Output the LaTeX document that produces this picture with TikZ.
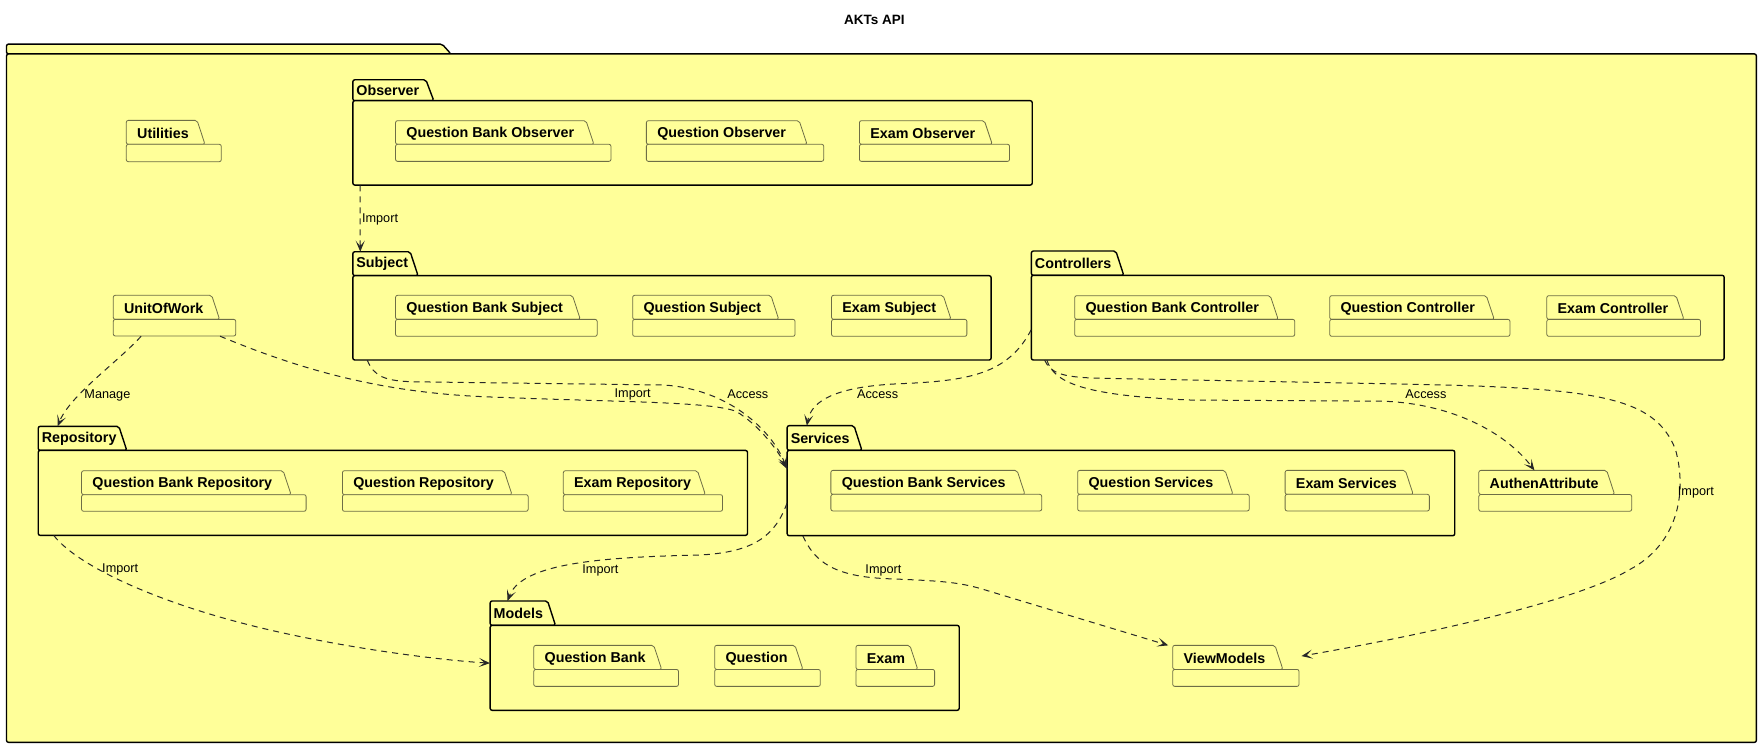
\documentclass[tikz,border=0pt]{standalone}
\usepackage{fontspec}
\setmainfont{Liberation Sans}
\usetikzlibrary{arrows.meta,calc,fit}
\definecolor{pkgfill}{RGB}{255,255,153}
\definecolor{pkgline}{RGB}{110,110,70}
\definecolor{depcol}{RGB}{40,40,40}
\tikzset{
  bigpk/.style={draw=black, line width=1.4pt, fill=pkgfill, rounded corners=2pt},
  smallpk/.style={draw=pkgline, line width=0.8pt, fill=pkgfill, rounded corners=2pt},
  pkname/.style={font=\bfseries\fontsize{14.3}{16}\selectfont, anchor=west, inner sep=0pt},
  dep/.style={draw=depcol, line width=1pt, dash pattern=on 6pt off 5pt,
    -{Stealth[length=11pt,width=9pt,inset=5.5pt]}},
  lbl/.style={font=\fontsize{12.7}{14}\selectfont, inner sep=0pt, text=black},
  ttl/.style={font=\bfseries\fontsize{13.5}{15}\selectfont, inner sep=0pt}
}
% #1 name, #2 x0, #3 tab top, #4 tab right, #5 body top, #6 right, #7 bottom, #8 title
\newcommand\bigpkg[8]{%
  \draw[bigpk] (#2,#5) -- (#2,#3) -- (#4,#3) -- ({#4+7},#5) -- cycle;
  \draw[bigpk] (#2,#5) rectangle (#6,#7);
  \node[fit={(#2,#5) (#6,#7)}, inner sep=0pt] (#1) {};
  \coordinate (#1tab) at (#2,#3);
  \node[pkname] (#1t) at ({#2+3},{(#3+#5)/2}) {#8};
}
\newcommand\smallpkg[8]{%
  \draw[smallpk] (#2,#5) -- (#2,#3) -- (#4,#3) -- ({#4+7},#5) -- cycle;
  \draw[smallpk] (#2,#5) rectangle (#6,#7);
  \node[fit={(#2,#5) (#6,#7)}, inner sep=0pt] (#1) {};
  \coordinate (#1tab) at (#2,#3);
  \node[pkname] (#1t) at ({#2+9.5},{(#3+#5)/2+1.2}) {#8};
}
\begin{document}
\begin{tikzpicture}[x=1.1237pt,y=-1.1237pt]
\fill[white] (0,0) rectangle (1568,666);
\useasboundingbox (0,0) rectangle (1568,666);
\node[ttl] (title) at (778,18) {AKTs API};

% outer package
\draw[bigpk] (5.8,48) -- (5.8,39.2) -- (393.4,39.2) -- (401.3,48) -- cycle;
\draw[bigpk] (5.8,48) rectangle (1563,660.6);
\node[fit={(5.8,48) (1563,660.6)}, inner sep=0pt] (api) {};

% big packages
\bigpkg{obs}{314}{71}{379}{89.6}{918.6}{164.7}{Observer}
\bigpkg{subj}{314}{224}{365}{245.3}{882}{320.4}{Subject}
\bigpkg{ctrl}{917.8}{223.4}{993}{245}{1534.3}{320.4}{Controllers}
\bigpkg{repo}{34}{379.4}{105.8}{400.8}{665.2}{476.4}{Repository}
\bigpkg{svc}{700.5}{378.8}{760}{400.8}{1294.6}{476.7}{Services}
\bigpkg{models}{436.2}{534.8}{487.3}{556.5}{853.6}{632.1}{Models}

% small packages
\smallpkg{util}{112.4}{107.1}{175.4}{128.4}{196.9}{143.9}{Utilities}
\smallpkg{qbo}{352}{107.4}{521.5}{128.4}{543.7}{143.6}{Question Bank Observer}
\smallpkg{qo}{575.2}{107.4}{711.2}{128.4}{733}{143.6}{Question Observer}
\smallpkg{eo}{764.8}{107.4}{876}{128.4}{898.4}{143.6}{Exam Observer}

\smallpkg{uow}{100.8}{262.8}{188.4}{284.2}{209.8}{299}{UnitOfWork}
\smallpkg{qbs}{352}{262.8}{509.4}{284.2}{531.4}{299.3}{Question Bank Subject}
\smallpkg{qs}{563}{262.8}{686}{284.2}{707.5}{299.3}{Question Subject}
\smallpkg{es}{740}{262.8}{839.3}{284.2}{860.4}{299.3}{Exam Subject}

\smallpkg{qbc}{956.4}{263.1}{1130.4}{284.2}{1152.2}{299.3}{Question Bank Controller}
\smallpkg{qc}{1183.3}{263.1}{1322.7}{284.2}{1343.7}{299.3}{Question Controller}
\smallpkg{ec}{1376.5}{263.1}{1491.5}{284.2}{1513.3}{299.3}{Exam Controller}

\smallpkg{qbr}{72.6}{418.9}{252}{440.2}{272.4}{455}{Question Bank Repository}
\smallpkg{qr}{304.7}{418.9}{448.6}{440.2}{470}{455}{Question Repository}
\smallpkg{er}{501.3}{418.9}{620.7}{440.2}{643}{455}{Exam Repository}

\smallpkg{qbsv}{739.4}{418.6}{905.1}{439.9}{927}{454.7}{Question Bank Services}
\smallpkg{qsv}{959}{418.6}{1090.2}{439.9}{1111.7}{454.7}{Question Services}
\smallpkg{esv}{1143.6}{418.6}{1250.6}{439.9}{1272}{454.7}{Exam Services}
\smallpkg{authen}{1316}{418.6}{1429.8}{440}{1452}{455}{AuthenAttribute}

\smallpkg{qb}{475}{574.3}{581.8}{595.7}{603.8}{610.8}{Question Bank}
\smallpkg{q}{636}{574.3}{707.5}{595.7}{730}{610.8}{Question}
\smallpkg{ex}{761.7}{574.3}{809.7}{595.7}{831.7}{610.8}{Exam}
\smallpkg{vm}{1043.6}{574.3}{1134.6}{595.7}{1156}{610.8}{ViewModels}

% connectors
\draw[dep] ($(obs.south west)+(6.6,0)$) -- ($(subjtab)+(6.6,0)$);
\node[lbl, anchor=west] (l1) at (322,195.5) {Import};

\draw[dep] ($(uow.south west)+(25,0)$) .. controls (105,322) and (62,352) .. ($(repotab)+(17.3,0)$);
\node[lbl, anchor=west] (l2) at (75,352) {Manage};

\draw[dep] ($(subj.south west)+(13,0)$) .. controls (333,335) and (342,339.5) .. (372,339.8) -- (590,342.6) .. controls (650,346) and (688,385) .. ($(svc.north west)+(-0.5,15.5)$);
\draw[dep] ($(uow.south west)+(95.2,0)$) .. controls (270,330) and (340,349) .. (430,353) .. controls (550,358) and (630,357) .. (655,366) .. controls (675,378) and (692,400) .. ($(svc.north west)+(0.5,17)$);
\node[lbl] (l3) at (563,351) {Import};
\node[lbl] (l4) at (665.5,351) {Access};

\draw[dep] ($(ctrl.north west)+(0,48.7)$) .. controls (897,333) and (862,339) .. (800,341.5) .. controls (745,344) and (722,356) .. ($(svctab)+(17.5,0)$);
\node[lbl] (l5) at (781,351) {Access};

\draw[dep] ($(ctrl.south west)+(14,0)$) .. controls (938,340) and (962,352) .. (1060,356) -- (1230,357) .. controls (1292,359) and (1340,385) .. ($(authentab)+(49.5,0)$);
\node[lbl] (l6) at (1268.9,350.6) {Access};

\draw[dep] ($(ctrl.south west)+(12,0)$) .. controls (935,332) and (945,335.5) .. (975,336.5) -- (1243.6,341.7) .. controls (1420,345) and (1472,352) .. (1491,400) .. controls (1502,440) and (1492,485) .. (1450,507) .. controls (1400,537) and (1250,568) .. ($(vm.north east)+(2,-11.7)$);
\node[lbl, anchor=west] (l7) at (1493,438) {Import};

\draw[dep] ($(svc.north west)+(0,47.2)$) .. controls (690,476) and (672,492) .. (620,494) .. controls (520,496) and (463,504) .. ($(modelstab)+(15.4,0)$);
\node[lbl] (l8) at (534.3,507.3) {Import};

\draw[dep] ($(svc.south west)+(14.1,0)$) .. controls (725,500) and (742,513) .. (790,515) .. controls (840,517) and (855,518) .. (880,526) -- ($(vmtab)+(-4,0)$);
\node[lbl] (l9) at (786.2,507.3) {Import};

\draw[dep] ($(repo.south west)+(14.1,0)$) .. controls (70,505) and (150,542) .. (260,565) .. controls (330,580) and (400,588) .. ($(models.north west)+(0,33.8)$);
\node[lbl] (l10) at (107,506.7) {Import};
\end{tikzpicture}
\end{document}
